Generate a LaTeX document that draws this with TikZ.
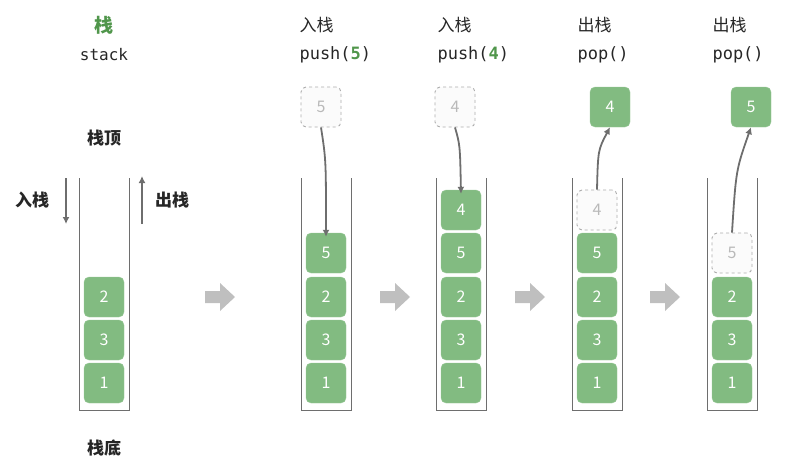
\documentclass[tikz,border=0pt]{standalone}
\usepackage{fontspec}
\setmainfont{Noto Sans CJK SC}
\setmonofont{DejaVu Sans Mono}
\usetikzlibrary{arrows.meta}
\definecolor{boxgreen}{RGB}{130,187,129}
\definecolor{titlegreen}{RGB}{80,150,75}
\definecolor{linegray}{RGB}{110,110,110}
\tikzset{
  elem/.style={draw=boxgreen!80!white,fill=boxgreen,rounded corners=5pt,minimum size=40pt,inner sep=0pt,text=white,font=\fontsize{16}{16}\selectfont},
  ghost/.style={draw=gray!65,dashed,line width=0.9pt,fill=gray!3,rounded corners=5pt,minimum size=40pt,inner sep=0pt,text=gray!55,font=\fontsize{16}{16}\selectfont},
  tube/.style={draw=linegray,line width=0.8pt},
  move/.style={draw=linegray,line width=1.8pt,-{Latex[length=7pt,width=7pt]}},
  title/.style={anchor=west,font=\fontsize{17}{17}\selectfont,text=black!85},
  code/.style={anchor=west,font=\ttfamily\fontsize{17}{17}\selectfont,text=black!85},
  note/.style={font=\bfseries\fontsize{17}{17}\selectfont,text=black!85},
}
\begin{document}
\begin{tikzpicture}[x=1pt,y=-1pt]
  \useasboundingbox (0,0) rectangle (803,474);
  % tubes
  \foreach \c in {104,326,461,597,732}
    \draw[tube] (\c-25,178) -- (\c-25,410) -- (\c+25,410) -- (\c+25,178);
  % stack 0
  \node[font=\bfseries\fontsize{19}{19}\selectfont,text=titlegreen] (t0) at (104,25) {栈};
  \node[font=\ttfamily\fontsize{16}{16}\selectfont,text=black!85] (c0) at (104,55) {stack};
  \node[note] (top) at (104,138) {栈顶};
  \node[note] (bot) at (104,448) {栈底};
  \node[note] (in) at (32,200) {入栈};
  \node[note] (out) at (172,200) {出栈};
  \coordinate (ina) at (66,178); \coordinate (inb) at (66,224);
  \coordinate (outa) at (142,224); \coordinate (outb) at (142,176);
  \draw[move] (ina) -- (inb);
  \draw[move] (outa) -- (outb);
  \node[elem] (a1) at (104,383) {1};
  \node[elem] (a3) at (104,340) {3};
  \node[elem] (a2) at (104,297) {2};
  % stack 1: push(5)
  \node[title] (t1) at (296,25) {入栈};
  \node[code] (c1) at (296,55) {push(\textcolor{titlegreen}{\textbf{5}})};
  \node[ghost] (g1) at (321,107) {5};
  \node[elem] (b1) at (326,383) {1};
  \node[elem] (b3) at (326,340) {3};
  \node[elem] (b2) at (326,297) {2};
  \node[elem] (b5) at (326,253) {5};
  \draw[move] (g1.south) .. controls (326,160) .. ([yshift=-4pt]b5.north);
  % stack 2: push(4)
  \node[title] (t2) at (434,25) {入栈};
  \node[code] (c2) at (434,55) {push(\textcolor{titlegreen}{\textbf{4}})};
  \node[ghost] (g2) at (455,107) {4};
  \node[elem] (d1) at (461,383) {1};
  \node[elem] (d3) at (461,340) {3};
  \node[elem] (d2) at (461,297) {2};
  \node[elem] (d5) at (461,253) {5};
  \node[elem] (d4) at (461,210) {4};
  \draw[move] (g2.south) .. controls (460,145) .. ([yshift=-4pt]d4.north);
  % stack 3: pop()
  \node[title] (t3) at (574,25) {出栈};
  \node[code] (c3) at (574,55) {pop()};
  \node[elem] (e4) at (610,107) {4};
  \node[elem] (f1) at (597,383) {1};
  \node[elem] (f3) at (597,340) {3};
  \node[elem] (f2) at (597,297) {2};
  \node[elem] (f5) at (597,253) {5};
  \node[ghost] (h4) at (597,210) {4};
  \draw[move] (h4.north) .. controls (598,150) .. (e4.south);
  % stack 4: pop()
  \node[title] (t4) at (709,25) {出栈};
  \node[code] (c4) at (709,55) {pop()};
  \node[elem] (k5) at (751,107) {5};
  \node[elem] (m1) at (732,383) {1};
  \node[elem] (m3) at (732,340) {3};
  \node[elem] (m2) at (732,297) {2};
  \node[ghost] (n5) at (732,253) {5};
  \draw[move] (n5.north) .. controls (736,170) .. (k5.south);
  % step arrows
  \foreach \x in {220,395,530,665}
    \fill[gray!50] (\x-15,291) -- (\x,291) -- (\x,283) -- (\x+15,297)
      -- (\x,311) -- (\x,303) -- (\x-15,303) -- cycle;
\end{tikzpicture}
\end{document}
